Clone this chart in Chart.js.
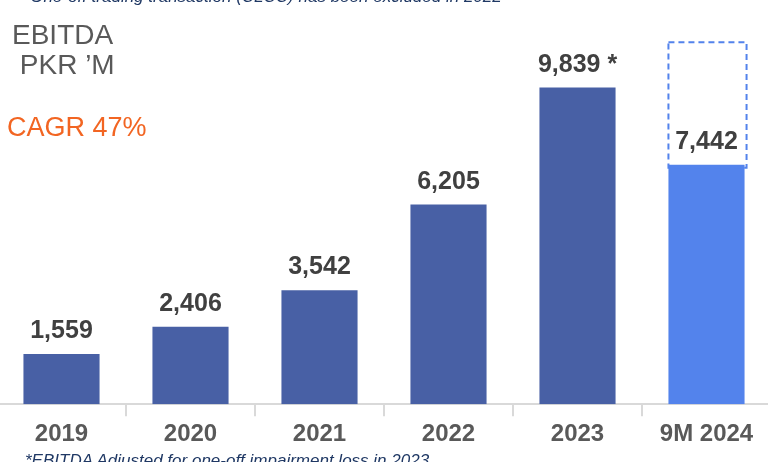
<!DOCTYPE html>
<html>
<head>
  <title>EBITDA</title>
  <script src="https://cdn.jsdelivr.net/npm/chart.js@4"></script>
  <style>
    html, body { margin: 0; padding: 0; width: 768px; height: 462px; overflow: hidden; background: #fff; }
    body { position: relative; font-family: Arial, "Liberation Sans", sans-serif; }
    #wrap { position: absolute; left: -3px; top: 0; width: 774px; height: 462px; }
    .note { position: absolute; font-style: italic; font-size: 17px; color: #1f3864; white-space: nowrap; }
    #topnote { left: 16px; top: -13px; }
    #botnote { left: 25px; top: 451px; }
    #title { position: absolute; left: 12px; top: 20px; font-size: 28px; line-height: 30px; color: #595959; }
    #cagr { position: absolute; left: 7px; top: 112px; font-size: 27px; color: #f26522; }
  </style>
</head>
<body>
  <div id="wrap"><canvas id="ebitdaChart"></canvas></div>
  <div class="note" id="topnote">– One-off trading transaction (CLCC) has been excluded in 2022</div>
  <div id="title">EBITDA<br>&nbsp;PKR ’M</div>
  <div id="cagr">CAGR 47%</div>
  <div class="note" id="botnote">*EBITDA Adjusted for one-off impairment loss in 2023</div>

<script>
var years = ["2019", "2020", "2021", "2022", "2023", "9M 2024"]
var ebitda = [1559, 2406, 3542, 6205, 9839, 7442]
var valueLabels = ["1,559", "2,406", "3,542", "6,205", "9,839 *", "7,442"]
// dashed outline on the 9M figure (floating range)
var outline = [null, null, null, null, null, [7442, 11250]]

var dark = "#4860a5", light = "#5383ec"

//draws value labels and the dashed box
var labelPlugin = {
  id: "labels",
  afterDatasetsDraw: function(chart){
    var ctx = chart.ctx
    var meta = chart.getDatasetMeta(0)
    ctx.save()
    ctx.font = "bold 25px Arial, 'Liberation Sans', sans-serif"
    ctx.fillStyle = "#404040"
    ctx.textAlign = "center"
    ctx.textBaseline = "alphabetic"
    for(i=0;i<meta.data.length;i++){
      var bar = meta.data[i]
      ctx.fillText(valueLabels[i], bar.x, bar.y - 16)
    }
    var om = chart.getDatasetMeta(1)
    for(i=0;i<om.data.length;i++){
      if(outline[i] == null) continue
      var b = om.data[i]
      ctx.setLineDash([6, 4])
      ctx.lineWidth = 2
      ctx.strokeStyle = light
      ctx.strokeRect(b.x - b.width/2, b.y, b.width + 2, b.base - b.y + 3)
    }
    ctx.restore()
  }
}

var chart = new Chart(document.getElementById("ebitdaChart").getContext("2d"), {
  type: "bar",
  data: {
    labels: years,
    datasets: [{
      data: ebitda,
      backgroundColor: [dark, dark, dark, dark, dark, light],
      barPercentage: 0.59,
      categoryPercentage: 1,
      order: 1
    }, {
      data: outline,
      backgroundColor: "rgba(0,0,0,0)",
      barPercentage: 0.59,
      categoryPercentage: 1,
      grouped: false,
      order: 2
    }]
  },
  options: {
    responsive: true,
    maintainAspectRatio: false,
    animation: false,
    layout: { padding: { top: 18, bottom: 9, left: 0, right: 0 } },
    plugins: { legend: { display: false }, tooltip: { enabled: false } },
    scales: {
      y: { display: false, min: 0, max: 12000 },
      x: {
        grid: { drawOnChartArea: false, color: "#d9d9d9", tickLength: 12, lineWidth: 2 },
        border: { color: "#d9d9d9", width: 2 },
        ticks: { color: "#595959", padding: 4, font: { family: "Arial, 'Liberation Sans', sans-serif", size: 24, weight: "bold" } }
      }
    }
  },
  plugins: [labelPlugin]
})
</script>
</body>
</html>
